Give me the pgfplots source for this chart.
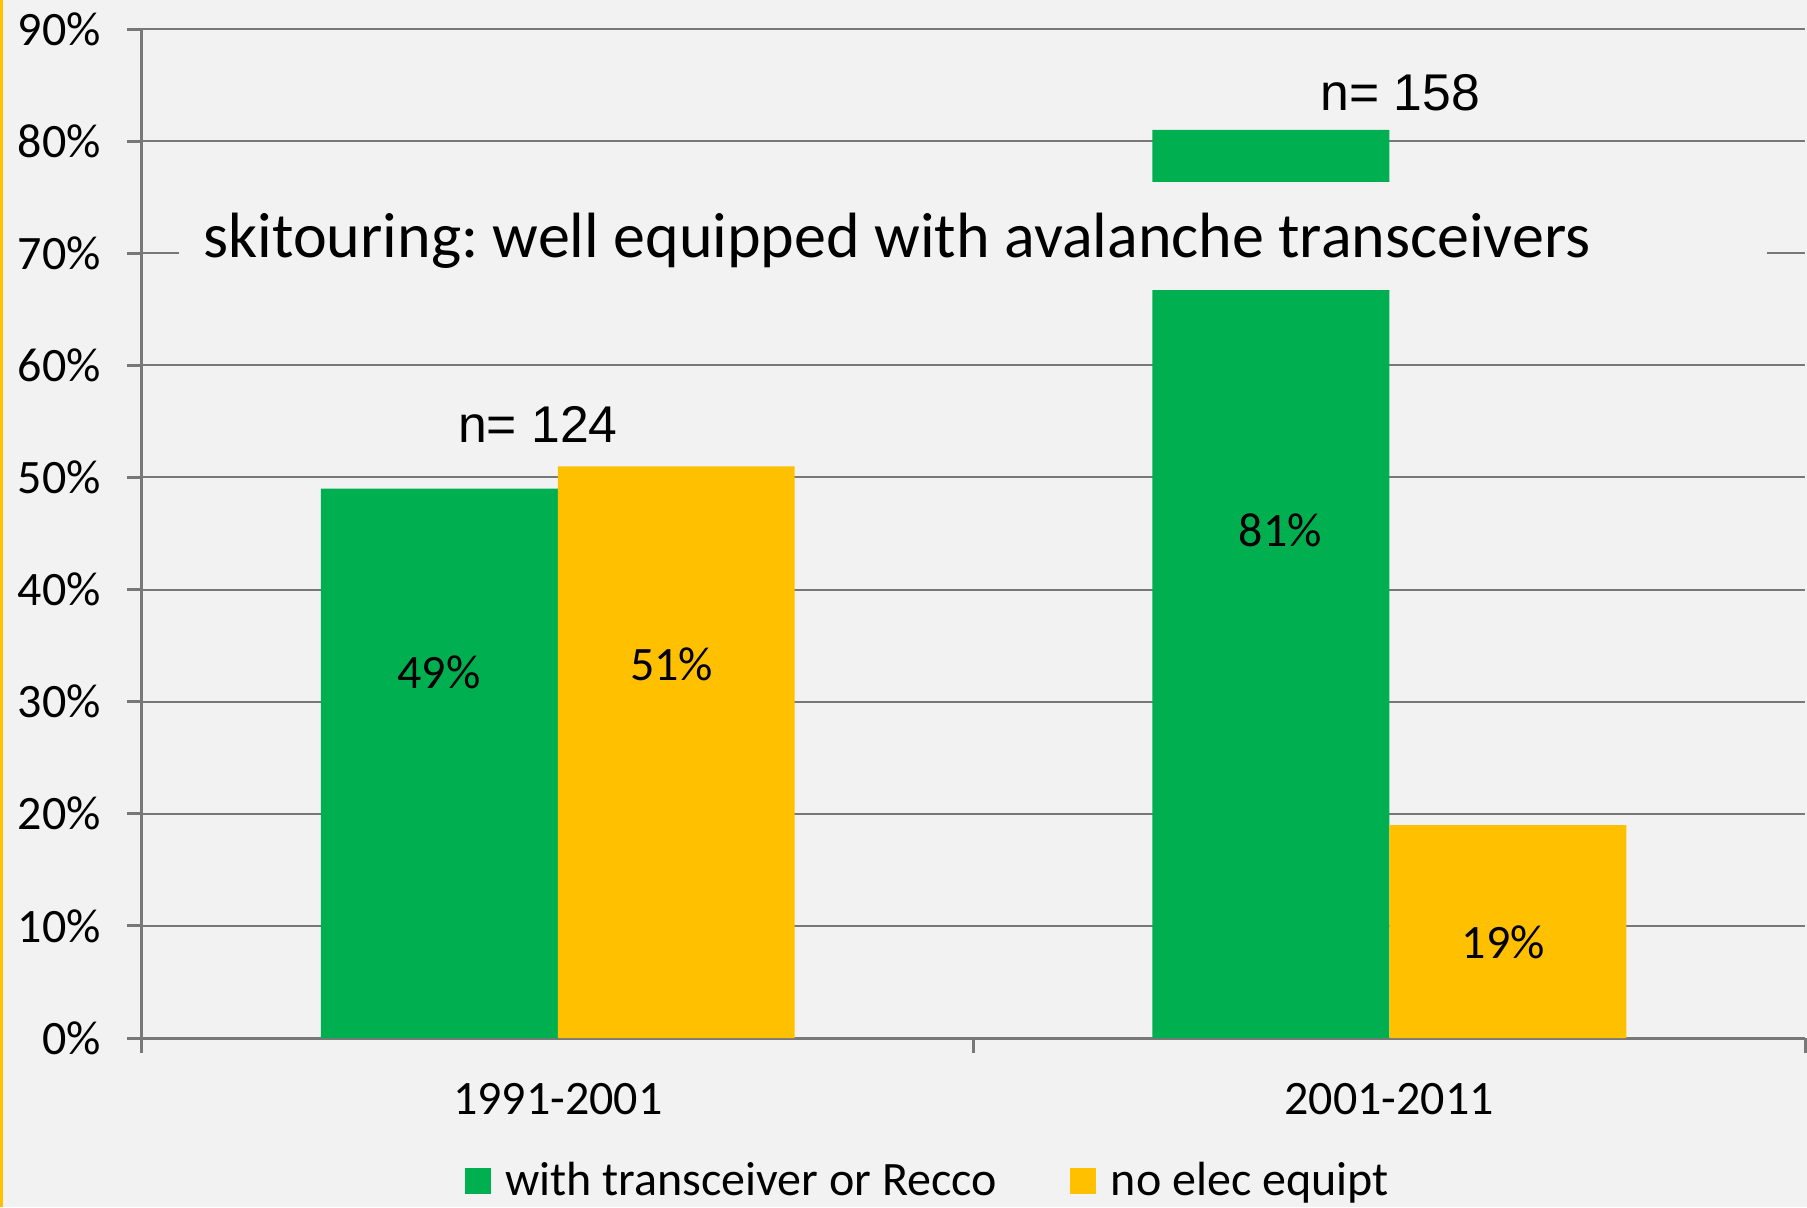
\documentclass[border=0pt]{standalone}
\usepackage{fontspec}
\setmainfont{Carlito}
\newfontfamily\arialfont{Liberation Sans}
\usepackage{pgfplots}
\pgfplotsset{compat=1.18}
\definecolor{bggray}{RGB}{242,242,242}
\definecolor{xlgreen}{RGB}{0,176,80}
\definecolor{xlyellow}{RGB}{255,192,0}
\definecolor{gridgray}{RGB}{120,120,120}
\frenchspacing

\begin{document}
\begin{tikzpicture}
% slide background and yellow left border
\fill[bggray] (-42.6pt,-50.7pt) rectangle (499.5pt,311.4pt);
\fill[xlyellow] (-42.6pt,-50.7pt) rectangle (-41.7pt,311.4pt);
\begin{axis}[
    scale only axis,
    width=498.9pt, height=302.7pt,
    at={(0,0)}, anchor=south west,
    clip=false,
    xmin=-0.5, xmax=1.5,
    ymin=0, ymax=90,
    axis x line=bottom, axis y line=left,
    axis line style={-, draw=gridgray, line width=0.9pt},
    ytick={0,10,...,90},
    yticklabels={0\%,10\%,20\%,30\%,40\%,50\%,60\%,70\%,80\%,90\%},
    xtick={-0.5,0.5,1.5},
    xticklabels={},
    extra x ticks={0,1},
    extra x tick labels={1991-2001,2001-2011},
    extra x tick style={major tick length=0pt, xticklabel style={yshift=-5.8pt}},
    tick align=outside,
    major tick length=4.5pt,
    tick style={draw=gridgray, line width=0.9pt},
    ymajorgrids,
    grid style={draw=gridgray, line width=0.6pt},
    tick label style={font=\fontsize{14.4}{14.4}\selectfont, text=black},
    yticklabel style={xshift=-4.3pt},
    xticklabel style={yshift=-4.3pt},
    legend style={
        at={(0.4738,-0.1417)}, anchor=center,
        draw=none, fill=none,
        legend columns=2,
        font=\fontsize{14.4}{14.4}\selectfont,
        /tikz/every even column/.append style={column sep=20pt},
    },
    legend cell align=left,
]
\addplot[ybar, fill=xlgreen, draw=none, bar width=0.285, bar shift=-0.1425,
    legend image code/.code={\fill[xlgreen] (0pt,-3.9pt) rectangle (7.8pt,3.9pt); \path (10.2pt,0pt);}]
    coordinates {(0,49) (1,81)};
\addplot[ybar, fill=xlyellow, draw=none, bar width=0.285, bar shift=0.1425,
    legend image code/.code={\fill[xlyellow] (0pt,-3.9pt) rectangle (7.8pt,3.9pt); \path (10.2pt,0pt);}]
    coordinates {(0,51) (1,19)};
\legend{with transceiver or Recco, no elec equipt}

% title box over the chart
\fill[bggray] (axis cs:-0.4555,66.7) rectangle (axis cs:1.454,76.4);
\node[anchor=base, font=\fontsize{19.2}{19.2}\selectfont] at (axis cs:0.408,69.6)
    {skitouring: well equipped with avalanche transceivers};

% sample sizes
\node[anchor=base, font=\arialfont\fontsize{15.5}{15.5}\selectfont] at (axis cs:-0.024,53.1) {n= 124};
\node[anchor=base, font=\arialfont\fontsize{15.5}{15.5}\selectfont] at (axis cs:1.013,82.7) {n= 158};

% value labels
\node[font=\fontsize{14.4}{14.4}\selectfont] at (axis cs:-0.143,32.6) {49\%};
\node[font=\fontsize{14.4}{14.4}\selectfont] at (axis cs:0.137,33.3) {51\%};
\node[font=\fontsize{14.4}{14.4}\selectfont] at (axis cs:0.869,45.3) {81\%};
\node[font=\fontsize{14.4}{14.4}\selectfont] at (axis cs:1.137,8.5) {19\%};
\end{axis}
\pgfresetboundingbox
\useasboundingbox (-42.6pt,-50.7pt) rectangle (499.5pt,311.4pt);
\end{tikzpicture}
\end{document}
